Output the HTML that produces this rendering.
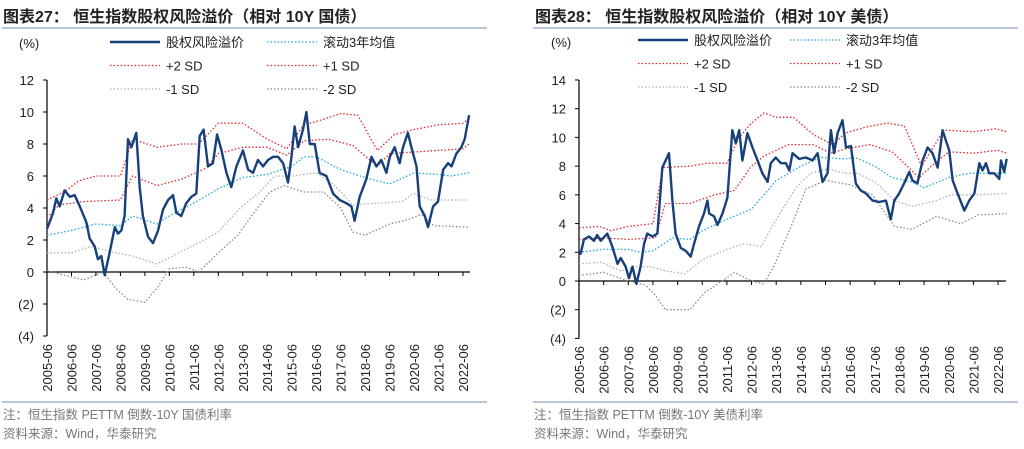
<!DOCTYPE html>
<html><head><meta charset="utf-8">
<style>
body{margin:0;background:#fff;width:1024px;height:444px;overflow:hidden;font-family:"Liberation Sans","Noto Sans CJK SC",sans-serif;}
svg text{font-family:"Liberation Sans","Noto Sans CJK SC",sans-serif;}
</style></head>
<body>
<svg id="root" width="1024" height="444" viewBox="0 0 1024 444"></svg>
<script>
// ---------- Chart 27 data (relative to China 10Y) ----------
const c1MainDates=[2005.50,2005.75,2005.88,2006.02,2006.22,2006.43,2006.63,2006.84,2007.11,2007.24,2007.45,2007.58,2007.72,2007.86,2008.06,2008.27,2008.40,2008.54,2008.67,2008.81,2008.95,2009.15,2009.29,2009.42,2009.63,2009.83,2010.04,2010.24,2010.45,2010.65,2010.79,2010.99,2011.19,2011.40,2011.60,2011.74,2011.90,2012.08,2012.28,2012.45,2012.63,2012.83,2013.03,2013.24,2013.51,2013.72,2013.92,2014.12,2014.33,2014.53,2014.74,2014.94,2015.15,2015.35,2015.49,2015.62,2015.76,2015.96,2016.10,2016.24,2016.44,2016.64,2016.92,2017.19,2017.46,2017.73,2017.94,2018.07,2018.28,2018.55,2018.76,2018.96,2019.16,2019.37,2019.51,2019.71,2019.91,2020.05,2020.25,2020.39,2020.60,2020.73,2020.94,2021.07,2021.28,2021.48,2021.69,2021.89,2022.03,2022.23,2022.43,2022.57,2022.75];
const c1Main=[2.7,3.7,4.6,4.1,5.1,4.7,4.8,4.1,3.1,2.1,1.6,0.8,1.0,-0.2,1.2,2.8,2.4,2.6,3.5,8.3,7.8,8.7,5.3,3.5,2.2,1.8,2.6,3.9,4.5,4.8,3.7,3.5,4.3,4.7,4.9,8.5,8.9,6.6,6.8,8.6,7.6,6.2,5.3,6.6,7.6,6.4,6.2,7.0,6.6,7.0,7.2,7.2,6.8,5.6,7.2,9.1,7.8,8.9,10.0,8.0,8.0,6.2,6.0,4.9,4.5,4.3,4.1,3.2,4.7,5.8,7.2,6.6,7.0,6.2,7.2,7.8,6.8,7.8,8.7,7.8,6.6,4.1,3.5,2.8,4.1,4.4,6.4,6.8,6.6,7.4,7.8,8.3,9.8];
const c1MeanDates=[2005.5,2006.5,2007.5,2008.5,2009,2010,2010.5,2011.5,2012.5,2013.5,2014.5,2015.5,2016,2016.5,2017.5,2018.5,2019.5,2020.5,2021.5,2022,2022.75];
const c1Mean=[2.3,2.6,3.0,2.9,3.5,3.0,3.5,4.3,5.2,5.9,6.1,6.6,7.2,7.2,6.4,5.9,5.5,6.2,6.1,6.0,6.2];
const c1P1Dates=[2005.5,2006,2007,2008.5,2009,2010,2011,2012,2012.5,2013.5,2014.5,2015.3,2016,2017,2018,2019,2019.5,2020.5,2021.5,2022.5,2022.75];
const c1P1=[3.4,4.2,4.4,4.5,6.0,5.4,5.8,6.5,7.4,7.8,7.8,7.3,8.2,8.3,7.9,6.6,7.4,7.5,7.6,7.7,8.0];
const c1P2Dates=[2005.5,2006.2,2006.8,2007.5,2008.5,2009,2010,2011,2011.7,2012.5,2013.5,2014.5,2015.3,2016,2016.5,2017.5,2018.2,2019,2019.7,2020.5,2021.5,2022.5,2022.75];
const c1P2=[4.5,5.0,5.7,6.0,6.0,8.3,7.8,8.0,8.0,9.3,9.3,8.3,7.7,9.2,9.4,9.9,9.8,7.6,8.6,8.9,9.2,9.3,9.6];
const c1M1Dates=[2005.5,2006.5,2007.3,2008.3,2009,2010,2011,2011.8,2012.5,2013.4,2014.2,2014.8,2015.5,2016.5,2017.2,2018,2019,2020,2020.5,2021.2,2022.75];
const c1M1=[1.2,1.2,1.6,1.2,1.0,0.5,1.3,1.9,2.5,4.0,5.0,6.0,6.0,6.2,5.5,4.2,4.3,4.4,4.9,4.5,4.5];
const c1M2Dates=[2005.5,2006.2,2007,2007.8,2008.3,2008.8,2009.5,2010,2010.5,2011.2,2011.7,2012.5,2013.3,2014,2014.6,2015.2,2016,2016.8,2017.5,2018,2018.5,2019.5,2020.3,2020.8,2021.3,2022.75];
const c1M2=[0.1,-0.2,-0.5,0.0,-1.0,-1.7,-1.9,-1.0,0.2,0.3,0.0,1.2,2.3,3.8,5.0,5.4,5.0,5.0,4.0,2.5,2.3,3.0,3.3,3.6,2.9,2.8];
// ---------- Chart 28 data (relative to US 10Y) ----------
const c2MainDates=[2005.50,2005.57,2005.70,2005.91,2006.11,2006.24,2006.38,2006.65,2006.85,2007.06,2007.19,2007.39,2007.53,2007.67,2007.83,2008.00,2008.14,2008.27,2008.48,2008.68,2008.88,2009.15,2009.29,2009.42,2009.63,2009.83,2010.03,2010.17,2010.37,2010.57,2010.71,2010.78,2010.98,2011.12,2011.32,2011.52,2011.72,2011.86,2012.00,2012.13,2012.33,2012.54,2012.74,2012.94,2013.15,2013.28,2013.48,2013.69,2013.89,2014.03,2014.16,2014.43,2014.70,2014.97,2015.18,2015.38,2015.58,2015.72,2015.85,2015.99,2016.19,2016.33,2016.53,2016.73,2016.93,2017.14,2017.41,2017.68,2017.95,2018.15,2018.29,2018.49,2018.69,2018.90,2019.03,2019.23,2019.44,2019.64,2019.84,2020.05,2020.25,2020.38,2020.52,2020.66,2020.86,2021.13,2021.33,2021.54,2021.74,2021.87,2022.01,2022.14,2022.35,2022.55,2022.62,2022.75,2022.85];
const c2Main=[2.1,1.9,2.9,3.1,2.8,3.2,2.8,3.3,2.4,1.2,1.6,1.0,0.2,1.0,-0.2,1.0,2.6,3.3,3.1,3.3,7.9,8.9,5.6,3.3,2.3,2.1,1.7,2.6,3.8,4.7,5.6,4.7,4.5,3.9,4.7,5.8,10.5,9.6,10.5,8.4,10.3,9.3,8.4,7.5,6.9,8.2,8.6,8.2,8.2,7.7,8.9,8.5,8.6,8.4,8.9,6.9,7.5,10.5,8.9,10.3,11.2,9.3,9.4,6.8,6.3,6.1,5.6,5.5,5.6,4.3,5.6,6.1,6.8,7.6,7.0,6.8,8.4,9.3,8.9,7.9,10.5,9.8,9.1,7.0,6.1,4.9,5.6,6.1,8.2,7.7,8.2,7.5,7.5,7.1,8.4,7.6,8.5];
const c2MeanDates=[2005.5,2006.5,2007.5,2008,2008.5,2009.3,2010,2010.5,2011.5,2012.5,2013,2013.5,2014.5,2015.3,2016.3,2016.7,2017.5,2018.2,2019,2019.5,2020.5,2021.3,2022.85];
const c2Mean=[2.0,2.2,2.2,2.0,2.1,3.0,2.9,3.5,4.3,5.0,6.0,7.0,8.0,8.6,8.5,8.6,8.0,7.2,6.9,6.5,7.2,7.5,7.5];
const c2P1Dates=[2005.5,2006.5,2007.5,2008.6,2009,2010,2011,2011.8,2012.5,2013,2014,2015,2015.7,2016.3,2017.3,2018.2,2019.3,2019.8,2020.5,2021.5,2022.5,2022.85];
const c2P1=[2.9,3.0,2.9,3.0,5.4,5.4,6.0,6.3,8.0,8.7,9.5,9.5,8.9,9.2,9.5,9.0,7.2,8.0,9.0,8.9,9.1,8.9];
const c2P2Dates=[2005.5,2006.3,2006.8,2007.5,2008.5,2008.9,2010,2010.7,2011.5,2012,2012.5,2013,2013.5,2014.2,2015,2015.8,2016.3,2017.1,2018,2018.7,2019.4,2020.3,2021.5,2022.4,2022.85];
const c2P2=[3.7,3.8,3.5,3.8,4.0,7.9,8.0,8.2,8.2,10.0,11.0,11.7,11.4,11.4,10.2,9.5,10.3,10.7,11.0,10.8,8.0,10.5,10.4,10.6,10.4];
const c2M1Dates=[2005.5,2006.4,2007.2,2007.8,2008.4,2009,2009.8,2010.5,2011.5,2012.2,2012.9,2013.4,2014.3,2014.9,2015.6,2016.3,2016.8,2017.6,2018.3,2019,2020,2020.6,2021.5,2022.85];
const c2M1=[1.2,1.3,0.7,1.0,1.0,0.7,0.5,1.5,2.2,2.6,2.4,4.0,6.5,7.5,7.8,7.5,7.5,6.8,5.6,5.2,5.6,6.0,6.0,6.1];
const c2M2Dates=[2005.5,2006.5,2007.5,2008.2,2008.6,2009,2010,2010.6,2011.3,2011.8,2012.5,2013,2013.4,2014.2,2014.7,2015.5,2016.5,2017.4,2018.3,2019,2020,2021,2021.7,2022.85];
const c2M2=[0.4,0.6,0.0,-0.3,-1.0,-2.0,-2.0,-0.8,0.0,0.6,0.0,-0.2,1.0,4.2,6.4,7.0,6.7,6.0,3.8,3.6,4.5,4.0,4.6,4.7];
const yTicks1=[12,10,8,6,4,2,0,-2,-4];
const yTicks2=[14,12,10,8,6,4,2,0,-2,-4];
const xTickYears=[2005,2006,2007,2008,2009,2010,2011,2012,2013,2014,2015,2016,2017,2018,2019,2020,2021,2022];
const legendLabels=['股权风险溢价','滚动3年均值','+2 SD','+1 SD','-1 SD','-2 SD'];

const NS='http://www.w3.org/2000/svg';
const root=document.getElementById('root');
function mk(tag,attrs,parent){const e=document.createElementNS(NS,tag);for(const k in attrs)e.setAttribute(k,attrs[k]);(parent||root).appendChild(e);return e;}
function fmt(v){return v<0?'('+(-v)+')':String(v);}

function drawChart(cfg){
  const g=mk('g',{});
  
  
  const x=yr=>cfg.x0+(yr-2005.5)*cfg.pxYear;
  const y=v=>cfg.yZero-v*cfg.pxUnit;
  const t=mk('text',{x:cfg.titleX,y:22,'font-size':'16','font-weight':'bold',fill:'#222'},g);
  t.textContent=cfg.title;
  
  
  const r1=mk('line',{x1:cfg.ruleX1,x2:cfg.ruleX2,y1:28,y2:28,stroke:'#8ea4c0','stroke-width':1.3},g);
  
  
  const u=mk('text',{x:cfg.unitX,y:cfg.unitY,'font-size':'13',fill:'#222'},g);
  u.textContent='(%)';
  
  
  const ya=mk('line',{x1:cfg.x0,x2:cfg.x0,y1:y(cfg.yTicks[0]),y2:y(-4),stroke:'#000','stroke-width':1.2},g);
  
  
  cfg.yTicks.forEach(v=>{
    const tk=mk('line',{x1:cfg.x0-4,x2:cfg.x0,y1:y(v),y2:y(v),stroke:'#000'},g);
    
    
    const tl=mk('text',{x:cfg.x0-13,y:y(v)+5,'font-size':'13','text-anchor':'end',fill:'#222'},g);
    tl.textContent=fmt(v);
    
    
  });
  const xa=mk('line',{x1:cfg.x0,x2:cfg.xEnd,y1:y(0),y2:y(0),stroke:'#000','stroke-width':1.2},g);
  
  
  xTickYears.forEach(yrv=>{
    const xx=x(yrv+0.5);
    const tk=mk('line',{x1:xx,x2:xx,y1:y(0),y2:y(0)+4,stroke:'#000'},g);
    
    
    const tl=mk('text',{x:0,y:0,'font-size':'13','text-anchor':'end',fill:'#222',transform:`translate(${xx+5},${cfg.labelTop}) rotate(-90)`},g);
    tl.textContent=yrv+'-06';
    
    
  });
  const series=[
    {d:cfg.m2d,v:cfg.m2,c:'#8a8a8a',w:1.3,da:'1.5 2',n:'series-minus-2sd'},
    {d:cfg.m1d,v:cfg.m1,c:'#b0b0b0',w:1.3,da:'1.5 2',n:'series-minus-1sd'},
    {d:cfg.p2d,v:cfg.p2,c:'#e0262e',w:1.3,da:'1.5 2',n:'series-plus-2sd'},
    {d:cfg.p1d,v:cfg.p1,c:'#e0262e',w:1.3,da:'1.5 2',n:'series-plus-1sd'},
    {d:cfg.meand,v:cfg.mean,c:'#1fa8e0',w:1.3,da:'1.5 2',n:'series-rolling-mean'},
    {d:cfg.maind,v:cfg.main,c:'#17407a',w:2.4,da:'',n:'series-equity-risk-premium'}
  ];
  series.forEach(s=>{
    const pts=s.d.map((d,i)=>x(d).toFixed(1)+','+y(s.v[i]).toFixed(1)).join(' ');
    const p=mk('polyline',{points:pts,fill:'none',stroke:s.c,'stroke-width':s.w,'stroke-linejoin':'round'},g);
    if(s.da)p.setAttribute('stroke-dasharray',s.da);
    
    
  });
  const styles=[['#17407a',2.4,''],['#1fa8e0',1.3,'1.5 2'],['#e0262e',1.3,'1.5 2'],['#e0262e',1.3,'1.5 2'],['#b0b0b0',1.3,'1.5 2'],['#8a8a8a',1.3,'1.5 2']];
  legendLabels.forEach((lab,i)=>{
    const col=i%2,row=Math.floor(i/2);
    const lx=cfg.legX[col],ly=cfg.legY+row*23.5;
    const lg=mk('g',{},g);
    
    
    const ln=mk('line',{x1:lx,x2:lx+50,y1:ly,y2:ly,stroke:styles[i][0],'stroke-width':styles[i][1]},lg);
    if(styles[i][2])ln.setAttribute('stroke-dasharray',styles[i][2]);
    const tx=mk('text',{x:lx+56,y:ly+5,'font-size':'13',fill:'#222'},lg);
    tx.textContent=lab;
  });
  const r2=mk('line',{x1:cfg.ruleX1,x2:cfg.ruleX2,y1:402,y2:402,stroke:'#8ea4c0','stroke-width':1.3},g);
  
  
  const n1=mk('text',{x:cfg.ruleX1+1,y:419,'font-size':'12.5',fill:'#777'},g);
  n1.textContent=cfg.note;
  
  
  const n2=mk('text',{x:cfg.ruleX1+1,y:438,'font-size':'12.5',fill:'#777'},g);
  n2.textContent='资料来源：Wind，华泰研究';
  
  
}

drawChart({name:'chart-27',title:'图表27：  恒生指数股权风险溢价（相对 10Y 国债）',titleX:3,ruleX1:2,ruleX2:487,
  unitX:19,unitY:48,x0:47,pxYear:24.47,xEnd:470,yZero:272,pxUnit:16,yTicks:yTicks1,labelTop:344,
  legX:[110,267],legY:42,note:'注：恒生指数 PETTM 倒数-10Y 国债利率',
  maind:c1MainDates,main:c1Main,meand:c1MeanDates,mean:c1Mean,p1d:c1P1Dates,p1:c1P1,p2d:c1P2Dates,p2:c1P2,m1d:c1M1Dates,m1:c1M1,m2d:c1M2Dates,m2:c1M2});
drawChart({name:'chart-28',title:'图表28：  恒生指数股权风险溢价（相对 10Y 美债）',titleX:535,ruleX1:533,ruleX2:1018,
  unitX:551,unitY:47,x0:579,pxYear:24.65,xEnd:1006,yZero:281,pxUnit:14.36,yTicks:yTicks2,labelTop:346,
  legX:[638,790],legY:40,note:'注：恒生指数 PETTM 倒数-10Y 美债利率',
  maind:c2MainDates,main:c2Main,meand:c2MeanDates,mean:c2Mean,p1d:c2P1Dates,p1:c2P1,p2d:c2P2Dates,p2:c2P2,m1d:c2M1Dates,m1:c2M1,m2d:c2M2Dates,m2:c2M2});
</script>
</body></html>
